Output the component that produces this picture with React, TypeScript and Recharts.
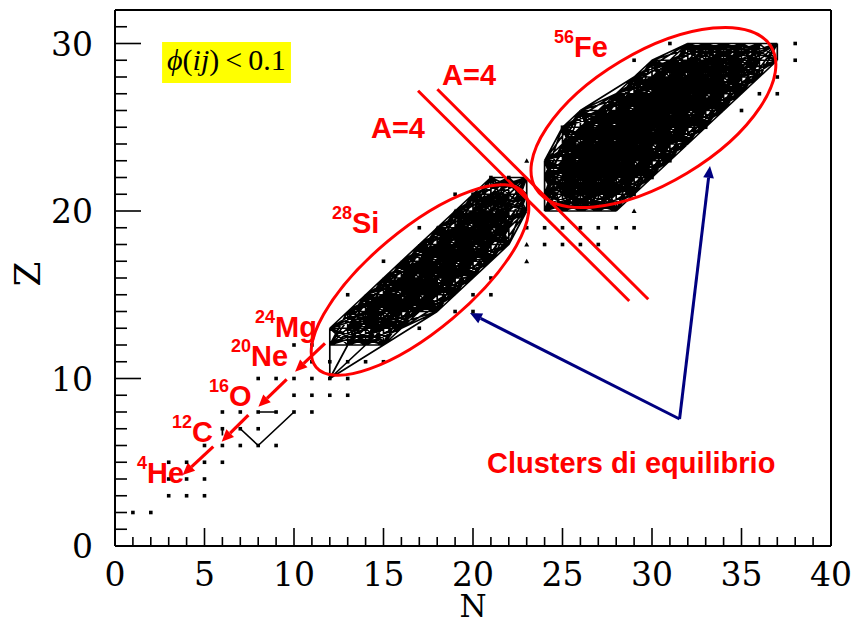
import React from "react";
import {
  ComposedChart,
  XAxis,
  YAxis,
  Line,
  Scatter,
  ReferenceLine,
  ReferenceDot,
  ReferenceArea,
} from "recharts";

// axis ticks (every unit, labels on the majors)
const xTicks = Array.from({ length: 41 }, (_, i) => i);
const yTicks = Array.from({ length: 32 }, (_, i) => i);

// isolated nuclei (N, Z) outside the clusters
const squareNuclei: [number, number][] = [
  [1, 2], [2, 2],
  [3, 3], [4, 3], [5, 3],
  [3, 4], [4, 4], [5, 4],
  [3, 5], [4, 5], [5, 5], [6, 5],
  [5, 6], [6, 6], [7, 6], [8, 6], [9, 6],
  [6, 7], [7, 7], [8, 7],
  [6, 8], [7, 8], [8, 8], [9, 8], [10, 8], [11, 8],
  [10, 9], [11, 9], [12, 9], [13, 9],
  [8, 10], [9, 10], [10, 10], [11, 10], [12, 10], [13, 10],
  [11, 11], [12, 11], [13, 11], [14, 11], [15, 11],
  [10, 12], [11, 12],
  [17, 13], [19, 14], [20, 14], [20, 15], [21, 15], [21, 16],
  [13, 15], [15, 17], [17, 19], [19, 21], [20, 21], [21, 22], [22, 22],
  [24, 18], [25, 18], [26, 18], [27, 18],
  [23, 19], [24, 19], [25, 19], [26, 19], [27, 19], [28, 19], [29, 19],
  [29, 21], [30, 22], [31, 23], [33, 25], [35, 26], [36, 27], [37, 27],
  [37, 28], [25, 25], [29, 29], [31, 30], [38, 29], [38, 30],
];
const triangleNuclei: [number, number][] = [
  [18, 19], [19, 20], [23, 23], [23, 17], [23, 18], [29, 20],
];

// equilibrium clusters: [Z, first N, last N]
const siRows: [number, number, number][] = [
  [12, 12, 15], [13, 12, 16], [14, 13, 18], [15, 14, 19], [16, 15, 20],
  [17, 16, 21], [18, 17, 22], [19, 18, 22], [20, 19, 23], [21, 20, 23],
  [22, 21, 23],
];
const feRows: [number, number, number][] = [
  [20, 24, 28], [21, 24, 29], [22, 24, 30], [23, 24, 31], [24, 25, 32],
  [25, 25, 33], [26, 26, 34], [27, 28, 35], [28, 29, 36], [29, 30, 37],
  [30, 32, 37],
];
// loose links drawn outside the clusters: [N1, Z1, N2, Z2]
const extraLinks: [number, number, number, number][] = [
  [7, 7, 8, 6], [8, 6, 10, 8], [8, 8, 9, 8], [6, 7, 6, 6.6],
  [12, 10, 12, 12], [12, 10, 13, 12], [12, 10, 14, 12], [12, 10, 15, 12],
  [15, 12, 23, 20], [28, 20, 33, 25], [28, 20, 31, 23], [29, 21, 36, 28],
];

// annotations
const isotopeLabels = [
  { mass: "56", name: "Fe", n: 24.53, z: 29.21 },
  { mass: "28", name: "Si", n: 12.12, z: 18.69 },
  { mass: "24", name: "Mg", n: 7.82, z: 12.5 },
  { mass: "20", name: "Ne", n: 6.48, z: 10.75 },
  { mass: "16", name: "O", n: 5.25, z: 8.36 },
  { mass: "12", name: "C", n: 3.18, z: 6.23 },
  { mass: "4", name: "He", n: 1.23, z: 3.74 },
];
const plainLabels = [
  { text: "A=4", n: 18.27, z: 27.52 },
  { text: "A=4", n: 14.3, z: 24.36 },
  { text: "Clusters di equilibrio", n: 20.78, z: 4.38 },
];
const alphaArrows: [number, number, number, number][] = [
  [11.73, 12.1, 10.06, 10.41],
  [9.59, 9.95, 8.01, 8.32],
  [7.45, 7.82, 5.96, 6.23],
  [5.49, 5.93, 3.78, 4.24],
];
const pointerArrows: [number, number, number, number][] = [
  [31.54, 7.58, 19.83, 13.91],
  [31.54, 7.58, 33.24, 22.69],
];
const a4Lines: [number, number, number, number][] = [
  [16.93, 27.18, 28.73, 14.63],
  [18.01, 27.27, 29.79, 14.73],
];
const ellipses = [
  { n: 17.04, z: 15.88, rx: 135.6, ry: 50.4, tilt: 40 },
  { n: 30.08, z: 25.58, rx: 137.4, ry: 65, tilt: 31 },
];

const RED = "#ff0000";
const NAVY = "#000080";
const SERIF = "'DejaVu Serif', serif";
const SANS = "'Liberation Sans', Arial, sans-serif";

type Pt = { n: number; z: number | null };

// every pair of cluster nuclei within 3 steps gets a link
function clusterLinks(rows: [number, number, number][]): Pt[] {
  const nodes: [number, number][] = [];
  rows.forEach(([z, a, b]) => {
    for (let n = a; n <= b; n++) nodes.push([n, z]);
  });
  const has = new Set(nodes.map(([n, z]) => `${n},${z}`));
  const pts: Pt[] = [];
  nodes.forEach(([n, z]) => {
    for (let dz = 0; dz <= 3; dz++) {
      for (let dn = -3; dn <= 3; dn++) {
        if (dz === 0 && dn <= 0) continue;
        if (!has.has(`${n + dn},${z + dz}`)) continue;
        pts.push({ n, z }, { n: n + dn, z: z + dz }, { n: n + dn, z: null });
      }
    }
  });
  return pts;
}

const meshData: Pt[] = [
  ...clusterLinks(siRows),
  ...clusterLinks(feRows),
  ...extraLinks.flatMap(([a, b, c, d]) => [
    { n: a, z: b },
    { n: c, z: d },
    { n: c, z: null },
  ]),
];
const squareData = squareNuclei.map(([n, z]) => ({ n, z }));
const triangleData = triangleNuclei.map(([n, z]) => ({ n, z }));

const BottomTick = (p: any) => {
  const major = p.payload.value % 5 === 0;
  return (
    <g>
      <line x1={p.x} x2={p.x} y1={p.y} y2={p.y - (major ? 18 : 9)} stroke="#000" strokeWidth={1.6} />
      {major && (
        <text x={p.x} y={p.y + 40} textAnchor="middle" fontFamily={SERIF} fontSize={33} fill="#000">
          {p.payload.value}
        </text>
      )}
    </g>
  );
};
const TopTick = (p: any) => {
  const major = p.payload.value % 5 === 0;
  return <line x1={p.x} x2={p.x} y1={p.y} y2={p.y + (major ? 18 : 9)} stroke="#000" strokeWidth={1.6} />;
};
const LeftTick = (p: any) => {
  const major = p.payload.value % 10 === 0;
  return (
    <g>
      <line x1={p.x} x2={p.x + (major ? 26 : 12)} y1={p.y} y2={p.y} stroke="#000" strokeWidth={1.6} />
      {major && (
        <text x={p.x - 22} y={p.y + 12} textAnchor="end" fontFamily={SERIF} fontSize={33} fill="#000">
          {p.payload.value}
        </text>
      )}
    </g>
  );
};
const RightTick = (p: any) => {
  const major = p.payload.value % 10 === 0;
  return <line x1={p.x} x2={p.x - (major ? 26 : 12)} y1={p.y} y2={p.y} stroke="#000" strokeWidth={1.6} />;
};

const arrowShape = (color: string, width: number, head: number) => (p: any) => {
  const { x1, y1, x2, y2 } = p;
  const a = Math.atan2(y2 - y1, x2 - x1);
  const bx = x2 - head * Math.cos(a);
  const by = y2 - head * Math.sin(a);
  const w = head * 0.45;
  const pts = [
    [x2, y2],
    [bx + w * Math.sin(a), by - w * Math.cos(a)],
    [bx - w * Math.sin(a), by + w * Math.cos(a)],
  ]
    .map((q) => q.join(","))
    .join(" ");
  return (
    <g>
      <line x1={x1} y1={y1} x2={bx} y2={by} stroke={color} strokeWidth={width} />
      <polygon points={pts} fill={color} />
    </g>
  );
};

const axisLine = { stroke: "#000", strokeWidth: 2 };

export default function App() {
  return (
    <div style={{ position: "fixed", left: 0, top: 0, width: 857, height: 624, background: "#fff" }}>
      <ComposedChart width={857} height={624} margin={{ top: 0, right: 0, bottom: 0, left: 0 }}>
        <XAxis
          dataKey="n"
          type="number"
          domain={[0, 40]}
          ticks={xTicks}
          interval={0}
          height={78}
          tickSize={0}
          tickMargin={0}
          tick={(p: any) => <BottomTick {...p} />}
          axisLine={axisLine}
          label={{
            content: (p: any) => (
              <text
                x={p.viewBox.x + p.viewBox.width / 2}
                y={p.viewBox.y + p.viewBox.height - 7}
                textAnchor="middle"
                fontFamily={SERIF}
                fontSize={31}
                fill="#000"
              >
                N
              </text>
            ),
          }}
        />
        <XAxis
          xAxisId="top"
          orientation="top"
          type="number"
          domain={[0, 40]}
          ticks={xTicks}
          interval={0}
          height={10}
          tickSize={0}
          tickMargin={0}
          tick={(p: any) => <TopTick {...p} />}
          axisLine={axisLine}
        />
        <YAxis
          type="number"
          domain={[0, 32]}
          ticks={yTicks}
          interval={0}
          width={115}
          tickSize={0}
          tickMargin={0}
          tick={(p: any) => <LeftTick {...p} />}
          axisLine={axisLine}
          label={{
            content: (p: any) => {
              const cx = p.viewBox.x + 27;
              const cy = p.viewBox.y + p.viewBox.height / 2 - 4;
              return (
                <text
                  x={cx}
                  y={cy}
                  transform={`rotate(-90 ${cx} ${cy})`}
                  textAnchor="middle"
                  dominantBaseline="central"
                  fontFamily={SERIF}
                  fontSize={36}
                  fill="#000"
                >
                  Z
                </text>
              );
            },
          }}
        />
        <YAxis
          yAxisId="right"
          orientation="right"
          type="number"
          domain={[0, 32]}
          ticks={yTicks}
          interval={0}
          width={26}
          tickSize={0}
          tickMargin={0}
          tick={(p: any) => <RightTick {...p} />}
          axisLine={axisLine}
        />

        <ReferenceArea x1={2.63} x2={9.83} y1={27.64} y2={30.09} fill="#ffff00" fillOpacity={1} stroke="none" />

        <Line
          data={meshData}
          dataKey="z"
          stroke="#000"
          strokeWidth={1.7}
          dot={false}
          activeDot={false}
          connectNulls={false}
          isAnimationActive={false}
        />
        <Scatter
          data={squareData}
          dataKey="z"
          isAnimationActive={false}
          shape={(p: any) => <rect x={p.cx - 1.8} y={p.cy - 1.8} width={3.6} height={3.6} fill="#000" />}
        />
        <Scatter
          data={triangleData}
          dataKey="z"
          isAnimationActive={false}
          shape={(p: any) => (
            <polygon points={`${p.cx - 2.5},${p.cy + 2} ${p.cx + 2.5},${p.cy + 2} ${p.cx},${p.cy - 2.5}`} fill="#000" />
          )}
        />

        <ReferenceDot
          x={2.91}
          y={28.42}
          r={1}
          shape={(p: any) => (
            <text x={p.cx} y={p.cy} fontFamily="'Liberation Serif', serif" fontSize={30} fill="#000">
              <tspan fontStyle="italic">ϕ</tspan>
              <tspan>(</tspan>
              <tspan fontStyle="italic">ij</tspan>
              <tspan>)</tspan>
              <tspan dx={6}>{"<"}</tspan>
              <tspan dx={6}>0.1</tspan>
            </text>
          )}
        />

        {a4Lines.map(([a, b, c, d], i) => (
          <ReferenceLine
            key={`a4-${i}`}
            segment={[{ x: a, y: b }, { x: c, y: d }]}
            stroke={RED}
            strokeWidth={3}
          />
        ))}
        {ellipses.map((e, i) => (
          <ReferenceDot
            key={`el-${i}`}
            x={e.n}
            y={e.z}
            r={1}
            shape={(p: any) => (
              <ellipse
                cx={p.cx}
                cy={p.cy}
                rx={e.rx}
                ry={e.ry}
                transform={`rotate(${-e.tilt} ${p.cx} ${p.cy})`}
                fill="none"
                stroke={RED}
                strokeWidth={3}
              />
            )}
          />
        ))}
        {alphaArrows.map(([a, b, c, d], i) => (
          <ReferenceLine
            key={`aa-${i}`}
            segment={[{ x: a, y: b }, { x: c, y: d }]}
            shape={arrowShape(RED, 3.2, 12)}
          />
        ))}
        {pointerArrows.map(([a, b, c, d], i) => (
          <ReferenceLine
            key={`pa-${i}`}
            segment={[{ x: a, y: b }, { x: c, y: d }]}
            shape={arrowShape(NAVY, 3, 12)}
          />
        ))}
        {isotopeLabels.map((l, i) => (
          <ReferenceDot
            key={`iso-${i}`}
            x={l.n}
            y={l.z}
            r={1}
            shape={(p: any) => (
              <text x={p.cx} y={p.cy} fontFamily={SANS} fontWeight="bold" fill={RED}>
                <tspan fontSize={18} dy={-14}>
                  {l.mass}
                </tspan>
                <tspan fontSize={29} dy={14}>
                  {l.name}
                </tspan>
              </text>
            )}
          />
        ))}
        {plainLabels.map((l, i) => (
          <ReferenceDot
            key={`pl-${i}`}
            x={l.n}
            y={l.z}
            r={1}
            shape={(p: any) => (
              <text x={p.cx} y={p.cy} fontFamily={SANS} fontWeight="bold" fontSize={29} fill={RED}>
                {l.text}
              </text>
            )}
          />
        ))}
      </ComposedChart>
    </div>
  );
}
